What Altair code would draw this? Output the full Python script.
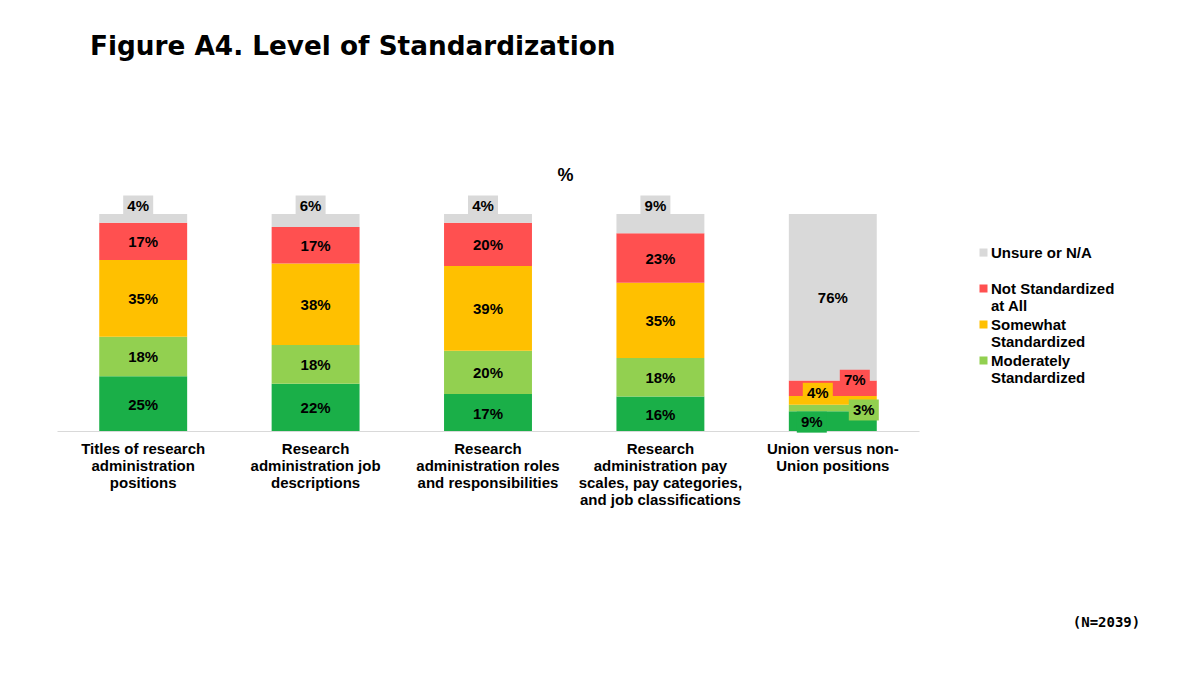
import altair as alt
import pandas as pd

categories = [
    "Titles of research\nadministration\npositions",
    "Research\nadministration job\ndescriptions",
    "Research\nadministration roles\nand responsibilities",
    "Research\nadministration pay\nscales, pay categories,\nand job classifications",
    "Union versus non-\nUnion positions",
]
series = [
    "Very Standardized",
    "Moderately\nStandardized",
    "Somewhat\nStandardized",
    "Not Standardized\nat All",
    "Unsure or N/A",
]
very = [25, 22, 17, 16, 9]
moderately = [18, 18, 20, 18, 3]
somewhat = [35, 38, 39, 35, 4]
not_at_all = [17, 17, 20, 23, 7]
unsure = [4, 6, 4, 9, 76]
colors = ["#1aaf48", "#92d050", "#ffc000", "#ff5050", "#d9d9d9"]
legend_values = [series[4], series[3], series[2], series[1]]

values = [very, moderately, somewhat, not_at_all, unsure]
rows = []
for si, s in enumerate(series):
    for ci, c in enumerate(categories):
        rows.append({"category": c, "series": s, "idx": si, "value": values[si][ci],
                     "label": f"{values[si][ci]}%"})
df = pd.DataFrame(rows)

# label callouts: (category index, series index, dx, dy, anchored at top of segment)
callouts = [
    (0, 4, -5, -8, True),
    (1, 4, -5, -8, True),
    (2, 4, -5, -8, True),
    (3, 4, -5, -8, True),
    (4, 0, -21, 1, False),
    (4, 1, 31, 2, False),
    (4, 2, -15, -7, False),
    (4, 3, 22, -8, False),
]
callout_keys = {(categories[c], series[s]) for c, s, *_ in callouts}

FONT = "Liberation Sans"
FS = 15

x_scale = alt.Scale(domain=categories, paddingInner=0.49, paddingOuter=0.245)
y_scale = alt.Scale(domain=[0, 1], nice=False, zero=True)

x_axis = alt.Axis(
    labelExpr="split(datum.label, '\\n')", labelAngle=0, labelFont=FONT,
    labelFontWeight="bold", labelFontSize=FS, labelColor="#000000",
    labelLineHeight=17, labelPadding=10, ticks=False, domainColor="#d9d9d9",
    labelLimit=400, labelBaseline="top",
    title="(N=2039)", titleX=1049, titleY=191, titleAlign="center",
    titleBaseline="middle", titleFont="DejaVu Sans Mono", titleFontSize=14,
    titleFontWeight="bold", titleColor="#000000",
)
y_axis = alt.Axis(
    title="%", titleAngle=0, titleX=508, titleY=-39, titleAlign="center",
    titleBaseline="middle", titleFont=FONT, titleFontSize=18, titleFontWeight="bold",
    titleColor="#000000", labels=False, ticks=False, domain=False, grid=False,
)


def X():
    return alt.X("category:N", sort=categories, scale=x_scale, axis=x_axis)


def Y(field):
    return alt.Y(f"{field}:Q", scale=y_scale, axis=y_axis)


base = alt.Chart(df).transform_stack(
    stack="value", groupby=["category"], as_=["v0", "v1"], offset="normalize",
    sort=[alt.SortField("idx", order="ascending")],
).transform_calculate(mid="(datum.v0 + datum.v1) / 2")

# legend square shifted up so that it sits beside the first text line
legend_symbol = "M-1,-2.35 h2 v2 h-2 Z"

bars = base.mark_bar().encode(
    x=X(), y=Y("v0"), y2="v1",
    color=alt.Color(
        "series:N", sort=series,
        scale=alt.Scale(domain=series, range=colors),
        legend=alt.Legend(
            values=legend_values, title=None, orient="none", legendX=919, legendY=28,
            symbolType=legend_symbol, symbolSize=64, symbolStrokeWidth=0,
            labelFont=FONT, labelFontSize=FS, labelFontWeight="bold",
            labelColor="#000000", labelLimit=400, labelOffset=0,
            labelExpr="split(indexof(datum.label, '\\n') < 0 ? datum.label + '\\n ' : datum.label, '\\n')",
            labelBaseline="alphabetic", clipHeight=32, rowPadding=0,
        ),
    ),
)

key_expr = " || ".join(
    f"(datum.category == {repr(c)} && datum.series == {repr(s)})" for c, s in callout_keys
).replace("\n", "\\n")

inner = base.transform_filter(f"!({key_expr})").mark_text(
    font=FONT, fontSize=FS, fontWeight="bold", color="#000000", dy=1
).encode(x=X(), y=Y("mid"), text="label:N")

layers = [bars, inner]
bw, bh = 30, 21
for c, s, dx, dy, top in callouts:
    cexpr = f"datum.category == {repr(categories[c])} && datum.series == {repr(series[s])}".replace("\n", "\\n")
    field = "v1" if top else "mid"
    u = 5.0
    path = (f"M{(dx - bw / 2) / u},{(dy - bh / 2) / u} h{bw / u} v{bh / u} "
            f"h{-bw / u} Z")
    box = base.transform_filter(cexpr).mark_point(
        shape=path, size=100, filled=True, opacity=1, strokeWidth=0,
        color=colors[s],
    ).encode(x=X(), y=Y(field))
    txt = base.transform_filter(cexpr).mark_text(
        font=FONT, fontSize=FS, fontWeight="bold", color="#000000", dx=dx, dy=dy,
    ).encode(x=X(), y=Y(field), text="label:N")
    layers += [box, txt]

chart = alt.layer(*layers).properties(
    width=862, height=217,
    autosize=alt.AutoSizeParams(type="none"),
    padding={"left": 49, "top": 206, "right": 273, "bottom": 236},
    background="white",
    title=alt.TitleParams(
        "Figure A4. Level of Standardization", anchor="start", frame="group",
        font="DejaVu Sans", fontSize=26.3, fontWeight="bold", color="#000000",
        dx=33, offset=106,
    ),
).configure_view(strokeWidth=0, stroke="transparent")

chart.save("out.html", embed_options={"renderer": "svg", "actions": False})
